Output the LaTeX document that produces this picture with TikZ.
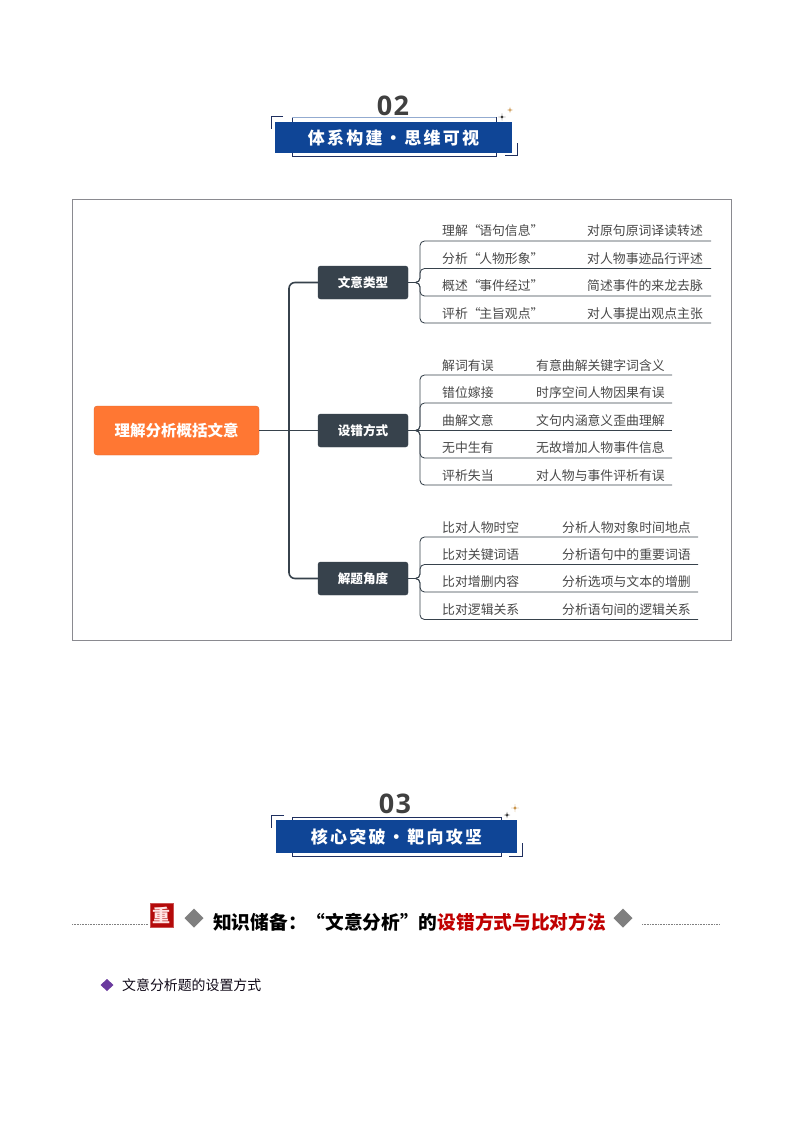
\documentclass[tikz,border=0pt]{standalone}
\usepackage{fontspec}
\setmainfont{Noto Sans CJK SC}
\newfontfamily\numfont{Open Sans}
\definecolor{navy}{HTML}{0F4596}
\definecolor{bracketnavy}{HTML}{1F2F5F}
\definecolor{slate}{HTML}{37424C}
\definecolor{orangebox}{HTML}{FF7733}
\definecolor{leaftext}{HTML}{484848}
\definecolor{framegray}{HTML}{8A8A90}
\definecolor{diamondgray}{HTML}{7F7F7F}
\definecolor{redbox}{HTML}{B40A0A}
\definecolor{redtext}{HTML}{C00000}
\definecolor{purplemark}{HTML}{6A3A9E}
\definecolor{goldstar}{HTML}{C58A3A}
\newcommand{\fs}[1]{\fontsize{#1}{#1}\selectfont}
\newcommand{\sparkle}[4]{\fill[#4] (#1-#3,#2) .. controls (#1-.2,#2-.2) .. (#1,#2-#3) .. controls (#1+.2,#2-.2) .. (#1+#3,#2) .. controls (#1+.2,#2+.2) .. (#1,#2+#3) .. controls (#1-.2,#2+.2) .. cycle;}
\tikzset{
  leaf/.style={anchor=west,inner sep=0pt,yshift=-.7pt,text=leaftext,font=\fs{12.85}},
  branch/.style={draw=slate,fill=slate,rounded corners=2.5pt,minimum width=90pt,minimum height=33pt,inner sep=0pt,text=white,font=\fs{12.6}\bfseries},
  leafline/.style={draw=slate,line width=.85pt,rounded corners=4.5pt},
  spine/.style={draw=slate,line width=1.6pt,rounded corners=6pt},
  bannerbar/.style={fill=navy,inner sep=0pt,text=white,font=\fs{17}\bfseries\addfontfeature{LetterSpace=13.5}},
  bannerback/.style={draw=bracketnavy,line width=.8pt,fill=white},
  bracket/.style={draw=bracketnavy,line width=1pt},
  dia/.style={fill=diamondgray},
  guide/.style={draw=gray,line width=.6pt,densely dotted},
  bignum/.style={text=black!75,font=\numfont\fs{27}\bfseries\addfontfeature{LetterSpace=5}}
}
\begin{document}
\begin{tikzpicture}[x=1pt,y=-1pt]
\useasboundingbox (0,0) rectangle (794,1123);
\fill[white] (0,0) rectangle (794,1123);

% banner 02
\node[bignum] (n02) at (393,105.5) {02};
\draw[bannerback] (292,117) rectangle (496,156);
\draw[draw=navy!45,line width=.9pt] (292,117) -- (496,117);
\node[bannerbar,minimum width=237pt,minimum height=31pt] (t02) at (393.5,137.5) {体系构建·思维可视};
\draw[bracket] (283,117) -- (271,117) -- (271,129);
\draw[bracket] (505,156) -- (517,156) -- (517,143);
\sparkle{502}{117}{3.6}{black!85}
\sparkle{510}{110}{3}{goldstar}

% frame
\draw[framegray,line width=.8pt] (72,199) rectangle (731,640);

% root and branches
\node[fill=orangebox,draw=orangebox!85!black,line width=.3pt,rounded corners=3pt,minimum width=165pt,minimum height=49pt,inner sep=0pt,text=white,font=\fs{15.5}\bfseries] (root) at (176.5,430.5) {理解分析概括文意};
\node[branch] (b1) at (363,282.5) {文意类型};
\node[branch] (b2) at (363,430.5) {设错方式};
\node[branch] (b3) at (363,578.5) {解题角度};
\draw[spine] (b1.west) -- (289,282.5) -- (289,578.5) -- (b3.west);
\draw[spine,rounded corners=0pt] (root.east) -- (b2.west);

% group 1
\coordinate (g1a) at (711,241);
\coordinate (g1b) at (711,268.5);
\coordinate (g1c) at (711,296);
\coordinate (g1d) at (711,323);
\foreach \e in {g1a,g1b,g1c,g1d}{
  \draw[leafline] (b1.east) -- (420,282.5) -- (420,0 |- \e) -- (\e);
}
\node[leaf] (l11) at (442,230) {理解“\hspace{-1.5pt}语句信息”};
\node[leaf] (l12) at (442,257.5) {分析“\hspace{-1.5pt}人物形象”};
\node[leaf] (l13) at (442,285) {概述“\hspace{-1.5pt}事件经过”};
\node[leaf] (l14) at (442,312.5) {评析“\hspace{-1.5pt}主旨观点”};
\node[leaf] (r11) at (587,230) {对原句原词译读转述};
\node[leaf] (r12) at (587,257.5) {对人物事迹品行评述};
\node[leaf] (r13) at (587,285) {简述事件的来龙去脉};
\node[leaf] (r14) at (587,312.5) {对人事提出观点主张};

% group 2
\coordinate (g2a) at (672,375);
\coordinate (g2b) at (672,403);
\coordinate (g2c) at (672,430.5);
\coordinate (g2d) at (672,458);
\coordinate (g2e) at (672,485);
\foreach \e in {g2a,g2b,g2d,g2e}{
  \draw[leafline] (b2.east) -- (420,430.5) -- (420,0 |- \e) -- (\e);
}
\draw[leafline] (b2.east) -- (g2c);
\node[leaf] (l21) at (442,364.5) {解词有误};
\node[leaf] (l22) at (442,392) {错位嫁接};
\node[leaf] (l23) at (442,419.5) {曲解文意};
\node[leaf] (l24) at (442,447) {无中生有};
\node[leaf] (l25) at (442,474.5) {评析失当};
\node[leaf] (r21) at (536,364.5) {有意曲解关键字词含义};
\node[leaf] (r22) at (536,392) {时序空间人物因果有误};
\node[leaf] (r23) at (536,419.5) {文句内涵意义歪曲理解};
\node[leaf] (r24) at (536,447) {无故增加人物事件信息};
\node[leaf] (r25) at (536,474.5) {对人物与事件评析有误};

% group 3
\coordinate (g3a) at (698,537);
\coordinate (g3b) at (698,564.5);
\coordinate (g3c) at (698,592);
\coordinate (g3d) at (698,619.5);
\foreach \e in {g3a,g3b,g3c,g3d}{
  \draw[leafline] (b3.east) -- (420,578.5) -- (420,0 |- \e) -- (\e);
}
\node[leaf] (l31) at (442,526.5) {比对人物时空};
\node[leaf] (l32) at (442,553.5) {比对关键词语};
\node[leaf] (l33) at (442,581) {比对增删内容};
\node[leaf] (l34) at (442,608.5) {比对逻辑关系};
\node[leaf] (r31) at (562,526.5) {分析人物对象时间地点};
\node[leaf] (r32) at (562,553.5) {分析语句中的重要词语};
\node[leaf] (r33) at (562,581) {分析选项与文本的增删};
\node[leaf] (r34) at (562,608.5) {分析语句间的逻辑关系};

% banner 03
\node[bignum] (n03) at (395,804) {03};
\draw[bannerback] (292,817) rectangle (501,856);
\node[bannerbar,minimum width=241pt,minimum height=33pt] (t03) at (396.5,836.5) {核心突破·靶向攻坚};
\draw[bracket] (284,815) -- (271,815) -- (271,828);
\draw[bracket] (509,856) -- (522,856) -- (522,843);
\sparkle{507}{815}{3.2}{black!85}
\sparkle{515}{808}{4}{goldstar}

% heading
\draw[guide] (72,924) -- (148,924);
\draw[guide] (642,924) -- (720,924);
\node[fill=redbox,draw=redbox!70!white,line width=.4pt,minimum width=23pt,minimum height=24pt,inner sep=0pt,text=white!90!red,font=\fs{18}\bfseries] (zhong) at (161.5,915) {重};
\fill[dia] (194,908.5) -- (203.5,918) -- (194,927.5) -- (184.5,918) -- cycle;
\fill[dia] (623,908.5) -- (632.5,918) -- (623,927.5) -- (613.5,918) -- cycle;
\node[anchor=west,inner sep=0pt,text=black,font=\fs{18.7}\bfseries] (head) at (213,922) {知识储备：“文意分析”的\textcolor{redtext}{设错方式与比对方法}};

% bullet
\fill[purplemark] (107,979) -- (113.5,985) -- (107,991) -- (100.5,985) -- cycle;
\node[anchor=west,inner sep=0pt,text=black!85!purplemark,font=\fs{13.9}] (bullet) at (122,985) {文意分析题的设置方式};
\end{tikzpicture}
\end{document}
